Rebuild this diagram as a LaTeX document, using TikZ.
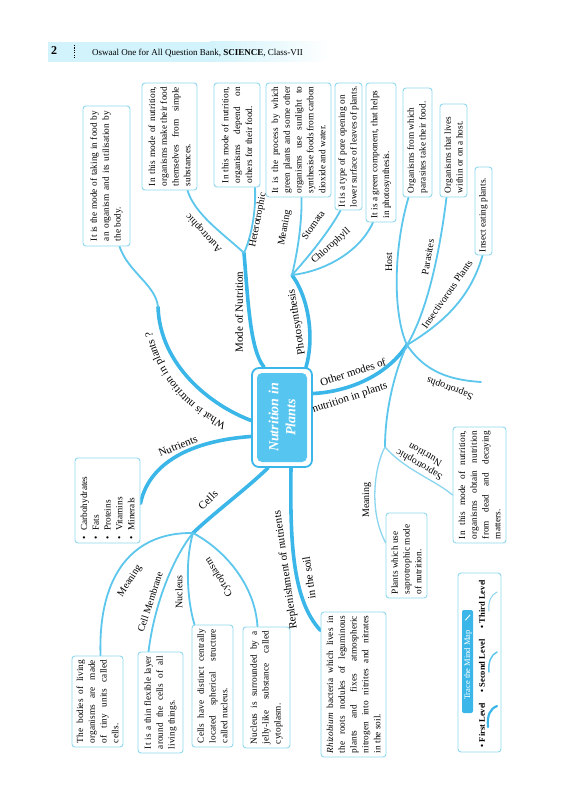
\documentclass[tikz,border=0pt]{standalone}
\usepackage{fontspec}
\setmainfont{Liberation Serif}
\usepackage{graphicx}
\usetikzlibrary{decorations.text}
\definecolor{lvla}{HTML}{3AB7E8}
\definecolor{lvlb}{HTML}{5CC6EC}
\definecolor{lvlc}{HTML}{8AD5F0}
\definecolor{boxc}{HTML}{8FD8F0}
\definecolor{cfill}{HTML}{56C5EF}
\definecolor{hdr}{HTML}{D2F3FB}
\newcommand\bxfont{\fontsize{9.3}{11.8}\selectfont}
\newcommand\lbfont{\fontsize{10}{12}\selectfont}
\newcommand\lafont{\fontsize{11}{13}\selectfont}
\newcommand\jln[1]{\makebox[\linewidth][s]{#1}\\}
\newcommand\bxt[2]{\rotatebox{90}{\parbox{#1pt}{\bxfont #2}}}
\pgfdeclarelayer{bg}
\pgfsetlayers{bg,main}
\begin{document}
\begin{tikzpicture}[x=1pt,y=-1pt,
 l1/.style={draw=lvla, line width=3.6pt, line cap=round},
 l2/.style={draw=lvlb, line width=1.8pt, line cap=round},
 l3/.style={draw=lvlc, line width=1.3pt, line cap=round},
 tbox/.style={draw=boxc, line width=0.9pt, rounded corners=3pt, fill=white, inner sep=0pt},
 la/.style={font=\lafont, inner sep=0pt},
 lb/.style={font=\lbfont, inner sep=0pt}]
\useasboundingbox (0,0) rectangle (584,800);

% header
\fill[hdr] (48,42) rectangle (210,62);
\shade[left color=hdr, right color=white] (210,42) rectangle (330,62);
\node[font=\fontsize{12}{14}\selectfont\bfseries, inner sep=0pt] (pg) at (54,51) {2};
\draw[dash pattern=on 1.2pt off 1.2pt, line width=0.7pt] (74,45) -- (74,59);
\node[anchor=west, font=\fontsize{9}{11}\selectfont, inner sep=0pt] (hd) at (92,53) {Oswaal One for All Question Bank, \textbf{SCIENCE}, Class-VII};

% centre
\node[draw=lvla, line width=1.8pt, fill=white, rounded corners=7pt, minimum width=60pt, minimum height=99pt, inner sep=0pt] (ctr) at (282,417.5) {};
\node[fill=cfill, rounded corners=5pt, minimum width=50pt, minimum height=89pt, inner sep=0pt] (cin) at (ctr) {\rotatebox{90}{\parbox{85pt}{\centering\fontsize{14}{17}\selectfont\bfseries\itshape\color{white}Nutrition in\\Plants}}};

% boxes
\node[tbox, minimum width=47pt, minimum height=140pt] (b1) at (106.5,176) {\bxt{130}{\jln{It is the mode of taking in food by}\jln{an organism and its utilisation by}the body.}};
\node[tbox, minimum width=55pt, minimum height=107pt] (b2) at (169.5,136.5) {\bxt{99}{\jln{In this mode of nutrition,}\jln{organisms make their food}\jln{themselves from simple}substances.}};
\node[tbox, minimum width=46pt, minimum height=104pt] (b3) at (237,135) {\bxt{96}{\jln{In this mode of nutrition,}\jln{organisms depend on}others for their food.}};
\node[tbox, minimum width=65pt, minimum height=114pt] (b4) at (298.5,140) {\bxt{107}{\jln{It is the process by which}\jln{green plants and some other}\jln{organisms use sunlight to}\jln{synthesise foods from carbon}dioxide and water.}};
\node[tbox, minimum width=27pt, minimum height=127pt] (b5) at (348.5,146.5) {\bxt{121}{It is a type of pore opening on\\lower surface of leaves of plants.}};
\node[tbox, minimum width=30pt, minimum height=139pt] (b6) at (381,152.5) {\bxt{132}{It is a green component, that helps\\in photosynthesis.}};
\node[tbox, minimum width=29pt, minimum height=109pt] (b7) at (417.5,142.5) {\bxt{101}{Organisms from which\\parasites take their food.}};
\node[tbox, minimum width=27pt, minimum height=93pt] (b8) at (453.5,150.5) {\bxt{85}{Organisms that lives\\within or on a host.}};
\node[tbox, minimum width=17pt, minimum height=88pt] (b9) at (483.5,211) {\bxt{82}{Insect eating plants.}};
\node[tbox, minimum width=53pt, minimum height=116pt] (b10) at (479.5,485) {\bxt{108}{\jln{In this mode of nutrition,}\jln{organisms obtain nutrition}\jln{from dead and decaying}matters.}};
\node[tbox, minimum width=41pt, minimum height=85pt] (b11) at (406.5,555.5) {\bxt{77}{Plants which use\\saprotrophic mode\\of nutrition.}};
\node[tbox, minimum width=65pt, minimum height=145pt] (b12) at (353.5,684.5) {\bxt{137}{\jln{\textit{Rhizobium} bacteria which lives in}\jln{the roots nodules of leguminous}\jln{plants and fixes atmospheric}\jln{nitrogen into nitrites and nitrates}in the soil.}};
\node[tbox, minimum width=65pt, minimum height=85pt] (b14) at (107.5,500.5) {\bxt{77}{\textbullet\hspace{5pt}Carbohydrates\\\textbullet\hspace{5pt}Fats\\\textbullet\hspace{5pt}Proteins\\\textbullet\hspace{5pt}Vitamins\\\textbullet\hspace{5pt}Minerals}};
\node[tbox, minimum width=51pt, minimum height=91pt] (b15) at (97.5,701.5) {\bxt{83}{\jln{The bodies of living}\jln{organisms are made}\jln{of tiny units called}cells.}};
\node[tbox, minimum width=45pt, minimum height=101pt] (b16) at (160.5,702.5) {\bxt{93}{\jln{It is a thin flexible layer}\jln{around the cells of all}living things.}};
\node[tbox, minimum width=41pt, minimum height=122pt] (b17) at (212.5,686) {\bxt{114}{\jln{Cells have distinct centrally}\jln{located spherical structure}called nucleus.}};
\node[tbox, minimum width=47pt, minimum height=121pt] (b18) at (266.5,687.5) {\bxt{113}{\jln{Nucleus is surrounded by a}\jln{jelly-like substance called}cytoplasm.}};

% junctions
\coordinate (jmode) at (244,253);
\coordinate (jphoto) at (292,275);
\coordinate (jother) at (407,345);
\coordinate (jcell) at (193,533);
\coordinate (jwhat) at (158,307);
\coordinate (jsap) at (385,447);
\coordinate (sfree) at (481,382);

\begin{pgfonlayer}{bg}
\fill[white] (0,0) rectangle (584,800);
% first level
\draw[l1] ([yshift=-3pt]ctr.west) .. controls (210,405) and (160,365) .. (jwhat);
\draw[l2] (jwhat) .. controls (156,285) and (128,272) .. ([xshift=13pt]b1.south);
\draw[l1] ([xshift=-18pt]ctr.north) .. controls (250,350) and (248,300) .. (jmode);
\draw[l1] ([xshift=24pt]ctr.north) .. controls (314,340) and (310,300) .. (jphoto);
\draw[l1] ([yshift=24pt]ctr.east) .. controls (345,392) and (385,378) .. (jother);
\draw[l1] ([xshift=9pt]ctr.south) .. controls (290,540) and (292,600) .. ([yshift=54pt]b12.west);
\draw[l1] ([xshift=-14pt]ctr.south) .. controls (245,490) and (215,512) .. (jcell);
\draw[l1] ([yshift=-19pt]ctr.west) .. controls (200,440) and (150,458) .. ([yshift=-3pt]b14.east);
% second level
\draw[l2] (jmode) .. controls (225,235) and (195,215) .. ([xshift=18pt]b2.south);
\draw[l2] (jmode) .. controls (252,235) and (256,210) .. ([xshift=18pt]b3.south);
\draw[l2] (jphoto) .. controls (298,250) and (302,222) .. ([xshift=3pt]b4.south);
\draw[l2] (jphoto) .. controls (310,255) and (330,230) .. ([xshift=-8pt]b5.south);
\draw[l2] (jphoto) .. controls (320,272) and (358,255) .. ([xshift=-8pt]b6.south);
\draw[l2] (jother) .. controls (393,315) and (393,250) .. ([xshift=-9pt]b7.south);
\draw[l2] (jother) .. controls (428,310) and (440,250) .. ([xshift=-7pt]b8.south);
\draw[l2] (jother) .. controls (440,325) and (470,300) .. ([xshift=-1pt]b9.south);
\draw[l2] (jother) .. controls (425,372) and (450,380) .. (sfree);
\draw[l2] (jother) .. controls (395,370) and (385,410) .. (jsap);
\draw[l3] (jsap) .. controls (405,470) and (435,480) .. ([yshift=-10pt]b10.west);
\draw[l3] (jsap) .. controls (375,465) and (368,510) .. ([yshift=13pt]b11.west);
\draw[l2] (jcell) .. controls (135,532) and (98,572) .. ([xshift=3pt]b15.north);
\draw[l2] (jcell) .. controls (175,555) and (155,600) .. ([xshift=-12pt]b16.north);
\draw[l2] (jcell) .. controls (185,560) and (187,600) .. ([xshift=-18pt]b17.north);
\draw[l2] (jcell) .. controls (225,550) and (255,585) .. ([xshift=-9pt]b18.north);
\end{pgfonlayer}

% first level labels
\path[decorate, decoration={text along path, text={|\lafont|What is nutrition in plants ?}, text align=center}] (228,424) .. controls (200,412) and (160,380) .. (152,330);
\node[la, rotate=90] (tmode) at (239,312) {Mode of Nutrition};
\node[la, rotate=99] (tphoto) at (297,322) {Photosynthesis};
\node[la, rotate=18] (tother1) at (353,372) {Other modes of};
\node[la, rotate=18] (tother2) at (350,398) {nutrition in plants};
\node[la, rotate=98] (trep1) at (286,570) {Replenishment of nutrients};
\node[la, rotate=98] (trep2) at (309,578) {in the soil};
\node[la, rotate=45] (tcells) at (208,500) {Cells};
\node[la, rotate=22] (tnutr) at (178,446) {Nutrients};

% second level labels
\node[lb, rotate=133] (tauto) at (204,233) {Autotrophic};
\node[lb, rotate=79] (thetero) at (258,220) {Heterotrophic};
\node[lb, rotate=80] (tmean1) at (285,228) {Meaning};
\node[lb, rotate=55] (tstom) at (313,225) {Stomata};
\node[lb, rotate=42] (tchlo) at (331,246) {Chlorophyll};
\node[lb, rotate=90] (thost) at (389,262) {Host};
\node[lb, rotate=80] (tpara) at (428,257) {Parasites};
\node[lb, rotate=55] (tinsect) at (447,294) {Insectivorous Plants};
\node[lb, rotate=160] (tsaps) at (450,388) {Saprotrophs};
\node[lb, rotate=150, align=center] (tsapn) at (422,460) {Saprotrophic\\Nutrition};
\node[lb, rotate=90] (tmean2) at (367,500) {Meaning};
\node[lb, rotate=57] (tmean3) at (130,581) {Meaning};
\node[lb, rotate=72] (tcm) at (150,602) {Cell Membrane};
\node[lb, rotate=90] (tnuc) at (179,592) {Nucleus};
\node[lb, rotate=122] (tcyto) at (219,577) {Cytoplasm};

% legend
\node[tbox, minimum width=43pt, minimum height=179pt] (leg) at (479.5,662.5) {};
\node[fill=lvla, rounded corners=2pt, minimum width=11pt, minimum height=103pt, inner sep=0pt] (trace) at (467.5,661.5) {};
\node[rotate=90, inner sep=0pt, font=\fontsize{8.5}{10}\selectfont, text=white] (tracet) at (468,665) {Trace the Mind Map};
\draw[white, line width=0.9pt, line cap=round] (465.5,620) -- (470,615);
\node[rotate=90, inner sep=0pt, font=\fontsize{8.5}{10}\selectfont\bfseries] (lev1) at (482,725) {\textbullet\ First Level};
\node[rotate=90, inner sep=0pt, font=\fontsize{8.5}{10}\selectfont\bfseries] (lev2) at (482,666) {\textbullet\ Second Level};
\node[rotate=90, inner sep=0pt, font=\fontsize{8.5}{10}\selectfont\bfseries] (lev3) at (482,604) {\textbullet\ Third Level};
\draw[lvla, line width=2.2pt, line cap=round] (488,727) .. controls (487,715) and (490,709) .. (497,706);
\draw[lvlb, line width=1.5pt, line cap=round] (489,672) .. controls (488,662) and (491,655) .. (497,652);
\draw[lvlc, line width=1pt, line cap=round] (489,611) .. controls (488,601) and (491,595) .. (497,592);
\end{tikzpicture}
\end{document}
